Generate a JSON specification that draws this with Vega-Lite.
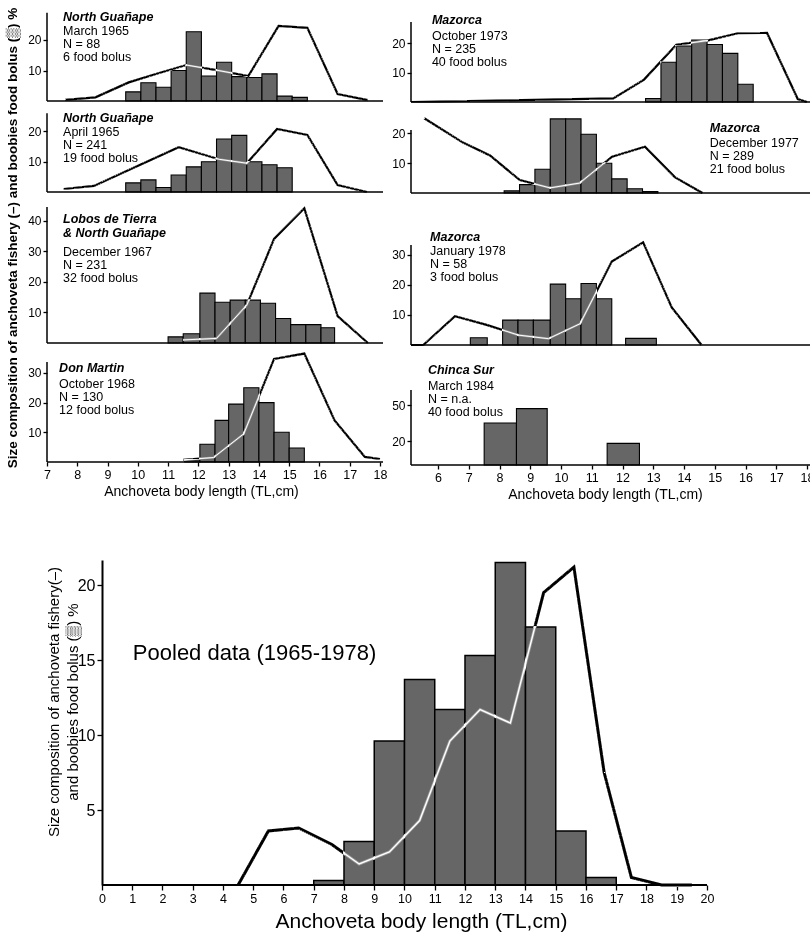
{
"$schema": "https://vega.github.io/schema/vega-lite/v6.json",
"padding": {"left": 6, "top": 7, "right": 0, "bottom": 0},
"autosize": {"type": "pad"},
"background": "white",
"datasets": {
"bars": [
{"panel":"P1","len":9.6,"len2":10.1,"pct":3},{"panel":"P1","len":10.1,"len2":10.6,"pct":6},{"panel":"P1","len":10.6,"len2":11.1,"pct":4.5},{"panel":"P1","len":11.1,"len2":11.6,"pct":10},{"panel":"P1","len":11.6,"len2":12.1,"pct":22.7},{"panel":"P1","len":12.1,"len2":12.6,"pct":8.2},{"panel":"P1","len":12.6,"len2":13.1,"pct":12.7},{"panel":"P1","len":13.1,"len2":13.6,"pct":8},{"panel":"P1","len":13.6,"len2":14.1,"pct":7.7},{"panel":"P1","len":14.1,"len2":14.6,"pct":8.9},{"panel":"P1","len":14.6,"len2":15.1,"pct":1.6},{"panel":"P1","len":15.1,"len2":15.6,"pct":1.2},
{"panel":"P2","len":9.6,"len2":10.1,"pct":3},{"panel":"P2","len":10.1,"len2":10.6,"pct":4},{"panel":"P2","len":10.6,"len2":11.1,"pct":1.5},{"panel":"P2","len":11.1,"len2":11.6,"pct":5.6},{"panel":"P2","len":11.6,"len2":12.1,"pct":8.3},{"panel":"P2","len":12.1,"len2":12.6,"pct":10},{"panel":"P2","len":12.6,"len2":13.1,"pct":17.5},{"panel":"P2","len":13.1,"len2":13.6,"pct":18.7},{"panel":"P2","len":13.6,"len2":14.1,"pct":10},{"panel":"P2","len":14.1,"len2":14.6,"pct":9},{"panel":"P2","len":14.6,"len2":15.1,"pct":8},
{"panel":"P3","len":11.0,"len2":11.5,"pct":2},{"panel":"P3","len":11.5,"len2":12.05,"pct":3},{"panel":"P3","len":12.05,"len2":12.55,"pct":16.3},{"panel":"P3","len":12.55,"len2":13.05,"pct":13.3},{"panel":"P3","len":13.05,"len2":13.55,"pct":14},{"panel":"P3","len":13.55,"len2":14.05,"pct":14},{"panel":"P3","len":14.05,"len2":14.55,"pct":13},{"panel":"P3","len":14.55,"len2":15.05,"pct":8},{"panel":"P3","len":15.05,"len2":15.55,"pct":6},{"panel":"P3","len":15.55,"len2":16.05,"pct":6},{"panel":"P3","len":16.05,"len2":16.5,"pct":5},
{"panel":"P4","len":11.55,"len2":12.05,"pct":0.7},{"panel":"P4","len":12.05,"len2":12.55,"pct":6},{"panel":"P4","len":12.55,"len2":13.0,"pct":14},{"panel":"P4","len":13.0,"len2":13.5,"pct":19.5},{"panel":"P4","len":13.5,"len2":14.0,"pct":25},{"panel":"P4","len":14.0,"len2":14.5,"pct":20},{"panel":"P4","len":14.5,"len2":15.0,"pct":10},{"panel":"P4","len":15.0,"len2":15.5,"pct":4.7},
{"panel":"P5","len":12.75,"len2":13.25,"pct":1.2},{"panel":"P5","len":13.25,"len2":13.75,"pct":13.5},{"panel":"P5","len":13.75,"len2":14.25,"pct":19},{"panel":"P5","len":14.25,"len2":14.75,"pct":21},{"panel":"P5","len":14.75,"len2":15.25,"pct":19.5},{"panel":"P5","len":15.25,"len2":15.75,"pct":16.5},{"panel":"P5","len":15.75,"len2":16.25,"pct":6},
{"panel":"P6","len":8.15,"len2":8.65,"pct":0.7},{"panel":"P6","len":8.65,"len2":9.15,"pct":2.8},{"panel":"P6","len":9.15,"len2":9.65,"pct":7.9},{"panel":"P6","len":9.65,"len2":10.15,"pct":24.7},{"panel":"P6","len":10.15,"len2":10.65,"pct":24.7},{"panel":"P6","len":10.65,"len2":11.15,"pct":19.6},{"panel":"P6","len":11.15,"len2":11.65,"pct":9.9},{"panel":"P6","len":11.65,"len2":12.15,"pct":4.7},{"panel":"P6","len":12.15,"len2":12.65,"pct":1.4},{"panel":"P6","len":12.65,"len2":13.15,"pct":0.5},
{"panel":"P7","len":7.05,"len2":7.6,"pct":2.4},{"panel":"P7","len":8.1,"len2":8.6,"pct":8.3},{"panel":"P7","len":8.6,"len2":9.1,"pct":8.3},{"panel":"P7","len":9.1,"len2":9.65,"pct":8.3},{"panel":"P7","len":9.65,"len2":10.15,"pct":20.3},{"panel":"P7","len":10.15,"len2":10.65,"pct":15.4},{"panel":"P7","len":10.65,"len2":11.15,"pct":20.5},{"panel":"P7","len":11.15,"len2":11.65,"pct":15.4},{"panel":"P7","len":12.1,"len2":13.1,"pct":2.2},
{"panel":"P8","len":7.5,"len2":8.55,"pct":35},{"panel":"P8","len":8.55,"len2":9.55,"pct":47},{"panel":"P8","len":11.5,"len2":12.55,"pct":18},
{"panel":"P9","len":7,"len2":8,"pct":0.3},{"panel":"P9","len":8,"len2":9,"pct":2.9},{"panel":"P9","len":9,"len2":10,"pct":9.6},{"panel":"P9","len":10,"len2":11,"pct":13.7},{"panel":"P9","len":11,"len2":12,"pct":11.7},{"panel":"P9","len":12,"len2":13,"pct":15.3},{"panel":"P9","len":13,"len2":14,"pct":21.5},{"panel":"P9","len":14,"len2":15,"pct":17.2},{"panel":"P9","len":15,"len2":16,"pct":3.6},{"panel":"P9","len":16,"len2":17,"pct":0.5}
],
"lines": [
{"panel":"P1","len":7.6,"pct":0.4},{"panel":"P1","len":8.6,"pct":1.2},{"panel":"P1","len":9.7,"pct":6.1},{"panel":"P1","len":10.65,"pct":9.0},{"panel":"P1","len":11.6,"pct":11.8},{"panel":"P1","len":12.6,"pct":10.1},{"panel":"P1","len":13.65,"pct":8.2},{"panel":"P1","len":14.65,"pct":24.6},{"panel":"P1","len":15.6,"pct":24.0},{"panel":"P1","len":16.6,"pct":2.3},{"panel":"P1","len":17.6,"pct":0.3},
{"panel":"P2","len":7.55,"pct":1},{"panel":"P2","len":8.55,"pct":2},{"panel":"P2","len":9.7,"pct":7.3},{"panel":"P2","len":11.35,"pct":14.8},{"panel":"P2","len":12.68,"pct":10.8},{"panel":"P2","len":13.6,"pct":9.5},{"panel":"P2","len":14.6,"pct":20.8},{"panel":"P2","len":15.6,"pct":18.8},{"panel":"P2","len":16.6,"pct":2.3},{"panel":"P2","len":17.57,"pct":0},
{"panel":"P3","len":11.5,"pct":1.0},{"panel":"P3","len":12.6,"pct":1.5},{"panel":"P3","len":13.6,"pct":12.4},{"panel":"P3","len":14.5,"pct":34},{"panel":"P3","len":15.5,"pct":44},{"panel":"P3","len":16.6,"pct":8.8},{"panel":"P3","len":17.6,"pct":0},
{"panel":"P4","len":11.5,"pct":0.7},{"panel":"P4","len":12.5,"pct":1.5},{"panel":"P4","len":13.5,"pct":9.5},{"panel":"P4","len":14.5,"pct":34.7},{"panel":"P4","len":15.5,"pct":36.5},{"panel":"P4","len":16.5,"pct":14},{"panel":"P4","len":17.5,"pct":1.7},{"panel":"P4","len":18,"pct":1},
{"panel":"P5","len":5.12,"pct":0},{"panel":"P5","len":11.7,"pct":1.2},{"panel":"P5","len":12.7,"pct":7.6},{"panel":"P5","len":13.75,"pct":19.4},{"panel":"P5","len":14.75,"pct":20.8},{"panel":"P5","len":15.75,"pct":23.3},{"panel":"P5","len":16.7,"pct":23.4},{"panel":"P5","len":17.7,"pct":1},{"panel":"P5","len":18,"pct":0},
{"panel":"P6","len":5.55,"pct":24.9},{"panel":"P6","len":6.81,"pct":16.8},{"panel":"P6","len":7.69,"pct":12.5},{"panel":"P6","len":8.66,"pct":4.3},{"panel":"P6","len":9.64,"pct":1.7},{"panel":"P6","len":10.6,"pct":3.3},{"panel":"P6","len":11.66,"pct":12.1},{"panel":"P6","len":12.73,"pct":15.4},{"panel":"P6","len":13.7,"pct":5.3},{"panel":"P6","len":14.6,"pct":0},
{"panel":"P7","len":5.12,"pct":0},{"panel":"P7","len":5.52,"pct":0},{"panel":"P7","len":6.55,"pct":9.6},{"panel":"P7","len":7.58,"pct":6.7},{"panel":"P7","len":8.61,"pct":3.3},{"panel":"P7","len":9.59,"pct":2.1},{"panel":"P7","len":10.62,"pct":7.1},{"panel":"P7","len":11.65,"pct":27.8},{"panel":"P7","len":12.67,"pct":34.2},{"panel":"P7","len":13.6,"pct":12.5},{"panel":"P7","len":14.57,"pct":0},
{"panel":"P9","len":4.5,"pct":0},{"panel":"P9","len":5.5,"pct":3.6},{"panel":"P9","len":6.5,"pct":3.8},{"panel":"P9","len":7.6,"pct":2.7},{"panel":"P9","len":8.5,"pct":1.4},{"panel":"P9","len":9.5,"pct":2.2},{"panel":"P9","len":10.5,"pct":4.3},{"panel":"P9","len":11.5,"pct":9.6},{"panel":"P9","len":12.5,"pct":11.7},{"panel":"P9","len":13.5,"pct":10.8},{"panel":"P9","len":14.6,"pct":19.5},{"panel":"P9","len":15.6,"pct":21.2},{"panel":"P9","len":16.6,"pct":7.5},{"panel":"P9","len":17.5,"pct":0.5},{"panel":"P9","len":18.5,"pct":0},{"panel":"P9","len":19.5,"pct":0}
]
},
"vconcat": [
{
"hconcat": [
{
"spacing": 0, "bounds": "flush",
"vconcat": [
{
"width": 333, "height": 101,
"resolve": {"axis": {"x": "independent", "y": "independent"}},
"layer": [
{"data": {"name": "bars"}, "transform": [{"filter": "datum.panel === 'P1'"}], "mark": {"type": "rect", "fill": "#666666", "stroke": "black", "strokeWidth": 1.1}, "encoding": {
"x": {"field": "len", "type": "quantitative", "scale": {"domain": [7, 18], "nice": false, "zero": false}, "axis": null}, "x2": {"field": "len2"},
"y": {"field": "pct", "type": "quantitative", "scale": {"domain": [-3.934, 29.18], "nice": false, "zero": false}, "axis": {"orient": "left", "values": [10, 20], "domain": false, "title": null, "tickSize": 4, "labelPadding": 2}}, "y2": {"datum": 0}}},
{"data": {"name": "lines"}, "transform": [{"filter": "datum.panel === 'P1'"}], "mark": {"type": "line", "color": "white", "strokeWidth": 2.2, "blend": "difference"}, "encoding": {"x": {"field": "len", "type": "quantitative", "axis": null}, "y": {"field": "pct", "type": "quantitative", "axis": null}}},
{"data": {"name": "lines"}, "transform": [{"filter": "datum.panel === 'P1'"}], "mark": {"type": "line", "color": "white", "strokeWidth": 1, "blend": "color-dodge"}, "encoding": {"x": {"field": "len", "type": "quantitative", "axis": null}, "y": {"field": "pct", "type": "quantitative", "axis": null}}},
{"data": {"values": [{}]}, "mark": {"type": "rule", "color": "black", "strokeWidth": 1.5}, "encoding": {"x": {"datum": 7, "type": "quantitative", "axis": null}, "y": {"datum": 0, "type": "quantitative", "axis": null}, "y2": {"datum": 28.9}}},
{"data": {"values": [{}]}, "mark": {"type": "rule", "color": "black", "strokeWidth": 1.5}, "encoding": {"x": {"datum": 7, "type": "quantitative", "axis": null}, "x2": {"datum": 18.1}, "y": {"datum": 0, "type": "quantitative", "axis": null}}},
{"data": {"values": [{}]}, "mark": {"type": "text", "align": "left", "baseline": "top", "fontStyle": "italic", "fontWeight": "bold", "fontSize": 12.5}, "encoding": {"x": {"datum": 7.53, "type": "quantitative", "axis": null}, "y": {"datum": 29.5, "type": "quantitative", "axis": null}, "text": {"value": "North Guañape"}}},
{"data": {"values": [{}]}, "mark": {"type": "text", "align": "left", "baseline": "top", "fontSize": 12.5, "lineHeight": 13}, "encoding": {"x": {"datum": 7.53, "type": "quantitative", "axis": null}, "y": {"datum": 24.9, "type": "quantitative", "axis": null}, "text": {"value": ["March 1965", "N = 88", "6 food bolus"]}}}
]
},
{
"width": 333, "height": 94,
"resolve": {"axis": {"x": "independent", "y": "independent"}},
"layer": [
{"data": {"name": "bars"}, "transform": [{"filter": "datum.panel === 'P2'"}], "mark": {"type": "rect", "fill": "#666666", "stroke": "black", "strokeWidth": 1.1}, "encoding": {
"x": {"field": "len", "type": "quantitative", "scale": {"domain": [7, 18], "nice": false, "zero": false}, "axis": null}, "x2": {"field": "len2"},
"y": {"field": "pct", "type": "quantitative", "scale": {"domain": [-4.95, 26.07], "nice": false, "zero": false}, "axis": {"orient": "left", "values": [10, 20], "domain": false, "title": null, "tickSize": 4, "labelPadding": 2}}, "y2": {"datum": 0}}},
{"data": {"name": "lines"}, "transform": [{"filter": "datum.panel === 'P2'"}], "mark": {"type": "line", "color": "white", "strokeWidth": 2.2, "blend": "difference"}, "encoding": {"x": {"field": "len", "type": "quantitative", "axis": null}, "y": {"field": "pct", "type": "quantitative", "axis": null}}},
{"data": {"name": "lines"}, "transform": [{"filter": "datum.panel === 'P2'"}], "mark": {"type": "line", "color": "white", "strokeWidth": 1, "blend": "color-dodge"}, "encoding": {"x": {"field": "len", "type": "quantitative", "axis": null}, "y": {"field": "pct", "type": "quantitative", "axis": null}}},
{"data": {"values": [{}]}, "mark": {"type": "rule", "color": "black", "strokeWidth": 1.5}, "encoding": {"x": {"datum": 7, "type": "quantitative", "axis": null}, "y": {"datum": 0, "type": "quantitative", "axis": null}, "y2": {"datum": 26}}},
{"data": {"values": [{}]}, "mark": {"type": "rule", "color": "black", "strokeWidth": 1.5}, "encoding": {"x": {"datum": 7, "type": "quantitative", "axis": null}, "x2": {"datum": 18.1}, "y": {"datum": 0, "type": "quantitative", "axis": null}}},
{"data": {"values": [{}]}, "mark": {"type": "text", "align": "left", "baseline": "top", "fontStyle": "italic", "fontWeight": "bold", "fontSize": 12.5}, "encoding": {"x": {"datum": 7.53, "type": "quantitative", "axis": null}, "y": {"datum": 26.4, "type": "quantitative", "axis": null}, "text": {"value": "North Guañape"}}},
{"data": {"values": [{}]}, "mark": {"type": "text", "align": "left", "baseline": "top", "fontSize": 12.5, "lineHeight": 13}, "encoding": {"x": {"datum": 7.53, "type": "quantitative", "axis": null}, "y": {"datum": 21.8, "type": "quantitative", "axis": null}, "text": {"value": ["April 1965", "N = 241", "19 food bolus"]}}}
]
},
{
"width": 333, "height": 155,
"resolve": {"axis": {"x": "independent", "y": "independent"}},
"layer": [
{"data": {"name": "bars"}, "transform": [{"filter": "datum.panel === 'P3'"}], "mark": {"type": "rect", "fill": "#666666", "stroke": "black", "strokeWidth": 1.1}, "encoding": {
"x": {"field": "len", "type": "quantitative", "scale": {"domain": [7, 18], "nice": false, "zero": false}, "axis": null}, "x2": {"field": "len2"},
"y": {"field": "pct", "type": "quantitative", "scale": {"domain": [-6.209, 44.44], "nice": false, "zero": false}, "axis": {"orient": "left", "values": [10, 20, 30, 40], "domain": false, "title": null, "tickSize": 4, "labelPadding": 2}}, "y2": {"datum": 0}}},
{"data": {"name": "lines"}, "transform": [{"filter": "datum.panel === 'P3'"}], "mark": {"type": "line", "color": "white", "strokeWidth": 2.2, "blend": "difference"}, "encoding": {"x": {"field": "len", "type": "quantitative", "axis": null}, "y": {"field": "pct", "type": "quantitative", "axis": null}}},
{"data": {"name": "lines"}, "transform": [{"filter": "datum.panel === 'P3'"}], "mark": {"type": "line", "color": "white", "strokeWidth": 1, "blend": "color-dodge"}, "encoding": {"x": {"field": "len", "type": "quantitative", "axis": null}, "y": {"field": "pct", "type": "quantitative", "axis": null}}},
{"data": {"values": [{}]}, "mark": {"type": "rule", "color": "black", "strokeWidth": 1.5}, "encoding": {"x": {"datum": 7, "type": "quantitative", "axis": null}, "y": {"datum": 0, "type": "quantitative", "axis": null}, "y2": {"datum": 44.4}}},
{"data": {"values": [{}]}, "mark": {"type": "rule", "color": "black", "strokeWidth": 1.5}, "encoding": {"x": {"datum": 7, "type": "quantitative", "axis": null}, "x2": {"datum": 18.1}, "y": {"datum": 0, "type": "quantitative", "axis": null}}},
{"data": {"values": [{}]}, "mark": {"type": "text", "align": "left", "baseline": "top", "fontStyle": "italic", "fontWeight": "bold", "fontSize": 12.5, "lineHeight": 14}, "encoding": {"x": {"datum": 7.53, "type": "quantitative", "axis": null}, "y": {"datum": 42.5, "type": "quantitative", "axis": null}, "text": {"value": ["Lobos de Tierra", "& North Guañape"]}}},
{"data": {"values": [{}]}, "mark": {"type": "text", "align": "left", "baseline": "top", "fontSize": 12.5, "lineHeight": 13}, "encoding": {"x": {"datum": 7.53, "type": "quantitative", "axis": null}, "y": {"datum": 31.7, "type": "quantitative", "axis": null}, "text": {"value": ["December 1967", "N = 231", "32 food bolus"]}}},
{"data": {"values": [{}]}, "mark": {"type": "text", "angle": 270, "align": "center", "baseline": "middle", "fontSize": 13.5, "fontWeight": "bold"}, "encoding": {"x": {"datum": 5.877, "type": "quantitative", "axis": null}, "y": {"datum": 34.3, "type": "quantitative", "axis": null}, "text": {"value": "Size composition of anchoveta fishery (–) and boobies food bolus (▒) %"}}}
]
},
{
"width": 333, "height": 100,
"resolve": {"axis": {"x": "independent", "y": "independent"}},
"layer": [
{"data": {"name": "bars"}, "transform": [{"filter": "datum.panel === 'P4'"}], "mark": {"type": "rect", "fill": "#666666", "stroke": "black", "strokeWidth": 1.1}, "encoding": {
"x": {"field": "len", "type": "quantitative", "scale": {"domain": [7, 18], "nice": false, "zero": false}, "axis": {"orient": "bottom", "values": [7, 8, 9, 10, 11, 12, 13, 14, 15, 16, 17, 18], "domain": false, "tickSize": 4, "labelFontSize": 12.5, "labelPadding": 2, "labelOverlap": false, "labelFlush": false, "title": "Anchoveta body length (TL,cm)", "titleFontSize": 14, "titlePadding": 4, "titleX": 154}}, "x2": {"field": "len2"},
"y": {"field": "pct", "type": "quantitative", "scale": {"domain": [0, 33.67], "nice": false, "zero": false}, "axis": {"orient": "left", "values": [10, 20, 30], "domain": false, "title": null, "tickSize": 4, "labelPadding": 2}}, "y2": {"datum": 0}}},
{"data": {"name": "lines"}, "transform": [{"filter": "datum.panel === 'P4'"}], "mark": {"type": "line", "color": "white", "strokeWidth": 2.2, "blend": "difference"}, "encoding": {"x": {"field": "len", "type": "quantitative", "axis": null}, "y": {"field": "pct", "type": "quantitative", "axis": null}}},
{"data": {"name": "lines"}, "transform": [{"filter": "datum.panel === 'P4'"}], "mark": {"type": "line", "color": "white", "strokeWidth": 1, "blend": "color-dodge"}, "encoding": {"x": {"field": "len", "type": "quantitative", "axis": null}, "y": {"field": "pct", "type": "quantitative", "axis": null}}},
{"data": {"values": [{}]}, "mark": {"type": "rule", "color": "black", "strokeWidth": 1.5}, "encoding": {"x": {"datum": 7, "type": "quantitative", "axis": null}, "y": {"datum": 0, "type": "quantitative", "axis": null}, "y2": {"datum": 33.67}}},
{"data": {"values": [{}]}, "mark": {"type": "rule", "color": "black", "strokeWidth": 1.5}, "encoding": {"x": {"datum": 7, "type": "quantitative", "axis": null}, "x2": {"datum": 18.1}, "y": {"datum": 0, "type": "quantitative", "axis": null}}},
{"data": {"values": [{}]}, "mark": {"type": "text", "align": "left", "baseline": "top", "fontStyle": "italic", "fontWeight": "bold", "fontSize": 12.5}, "encoding": {"x": {"datum": 7.4, "type": "quantitative", "axis": null}, "y": {"datum": 33.7, "type": "quantitative", "axis": null}, "text": {"value": "Don Martin"}}},
{"data": {"values": [{}]}, "mark": {"type": "text", "align": "left", "baseline": "top", "fontSize": 12.5, "lineHeight": 13}, "encoding": {"x": {"datum": 7.4, "type": "quantitative", "axis": null}, "y": {"datum": 28.3, "type": "quantitative", "axis": null}, "text": {"value": ["October 1968", "N = 130", "12 food bolus"]}}}
]
}
]
},
{
"spacing": 0, "bounds": "flush",
"vconcat": [
{
"width": 396, "height": 103,
"resolve": {"axis": {"x": "independent", "y": "independent"}},
"layer": [
{"data": {"name": "bars"}, "transform": [{"filter": "datum.panel === 'P5'"}], "mark": {"type": "rect", "fill": "#666666", "stroke": "black", "strokeWidth": 1.1}, "encoding": {
"x": {"field": "len", "type": "quantitative", "scale": {"domain": [5.12, 18], "nice": false, "zero": false}, "axis": null}, "x2": {"field": "len2"},
"y": {"field": "pct", "type": "quantitative", "scale": {"domain": [-4.407, 30.51], "nice": false, "zero": false}, "axis": {"orient": "left", "values": [10, 20], "domain": false, "title": null, "tickSize": 4, "labelPadding": 2}}, "y2": {"datum": 0}}},
{"data": {"name": "lines"}, "transform": [{"filter": "datum.panel === 'P5'"}], "mark": {"type": "line", "color": "white", "strokeWidth": 2.2, "blend": "difference"}, "encoding": {"x": {"field": "len", "type": "quantitative", "axis": null}, "y": {"field": "pct", "type": "quantitative", "axis": null}}},
{"data": {"name": "lines"}, "transform": [{"filter": "datum.panel === 'P5'"}], "mark": {"type": "line", "color": "white", "strokeWidth": 1, "blend": "color-dodge"}, "encoding": {"x": {"field": "len", "type": "quantitative", "axis": null}, "y": {"field": "pct", "type": "quantitative", "axis": null}}},
{"data": {"values": [{}]}, "mark": {"type": "rule", "color": "black", "strokeWidth": 1.5}, "encoding": {"x": {"datum": 5.12, "type": "quantitative", "axis": null}, "y": {"datum": 0, "type": "quantitative", "axis": null}, "y2": {"datum": 27.1}}},
{"data": {"values": [{}]}, "mark": {"type": "rule", "color": "black", "strokeWidth": 1.5}, "encoding": {"x": {"datum": 5.12, "type": "quantitative", "axis": null}, "x2": {"datum": 18.1}, "y": {"datum": 0, "type": "quantitative", "axis": null}}},
{"data": {"values": [{}]}, "mark": {"type": "text", "align": "left", "baseline": "top", "fontStyle": "italic", "fontWeight": "bold", "fontSize": 12.5}, "encoding": {"x": {"datum": 5.8, "type": "quantitative", "axis": null}, "y": {"datum": 29.8, "type": "quantitative", "axis": null}, "text": {"value": "Mazorca"}}},
{"data": {"values": [{}]}, "mark": {"type": "text", "align": "left", "baseline": "top", "fontSize": 12.5, "lineHeight": 13}, "encoding": {"x": {"datum": 5.8, "type": "quantitative", "axis": null}, "y": {"datum": 24.4, "type": "quantitative", "axis": null}, "text": {"value": ["October 1973", "N = 235", "40 food bolus"]}}}
]
},
{
"width": 396, "height": 115,
"resolve": {"axis": {"x": "independent", "y": "independent"}},
"layer": [
{"data": {"name": "bars"}, "transform": [{"filter": "datum.panel === 'P6'"}], "mark": {"type": "rect", "fill": "#666666", "stroke": "black", "strokeWidth": 1.1}, "encoding": {
"x": {"field": "len", "type": "quantitative", "scale": {"domain": [5.12, 18], "nice": false, "zero": false}, "axis": null}, "x2": {"field": "len2"},
"y": {"field": "pct", "type": "quantitative", "scale": {"domain": [-12.33, 26], "nice": false, "zero": false}, "axis": {"orient": "left", "values": [10, 20], "domain": false, "title": null, "tickSize": 4, "labelPadding": 2}}, "y2": {"datum": 0}}},
{"data": {"name": "lines"}, "transform": [{"filter": "datum.panel === 'P6'"}], "mark": {"type": "line", "color": "white", "strokeWidth": 2.2, "blend": "difference"}, "encoding": {"x": {"field": "len", "type": "quantitative", "axis": null}, "y": {"field": "pct", "type": "quantitative", "axis": null}}},
{"data": {"name": "lines"}, "transform": [{"filter": "datum.panel === 'P6'"}], "mark": {"type": "line", "color": "white", "strokeWidth": 1, "blend": "color-dodge"}, "encoding": {"x": {"field": "len", "type": "quantitative", "axis": null}, "y": {"field": "pct", "type": "quantitative", "axis": null}}},
{"data": {"values": [{}]}, "mark": {"type": "rule", "color": "black", "strokeWidth": 1.5}, "encoding": {"x": {"datum": 5.12, "type": "quantitative", "axis": null}, "y": {"datum": 0, "type": "quantitative", "axis": null}, "y2": {"datum": 21}}},
{"data": {"values": [{}]}, "mark": {"type": "rule", "color": "black", "strokeWidth": 1.5}, "encoding": {"x": {"datum": 5.12, "type": "quantitative", "axis": null}, "x2": {"datum": 18.1}, "y": {"datum": 0, "type": "quantitative", "axis": null}}},
{"data": {"values": [{}]}, "mark": {"type": "text", "align": "left", "baseline": "top", "fontStyle": "italic", "fontWeight": "bold", "fontSize": 12.5}, "encoding": {"x": {"datum": 14.84, "type": "quantitative", "axis": null}, "y": {"datum": 23.7, "type": "quantitative", "axis": null}, "text": {"value": "Mazorca"}}},
{"data": {"values": [{}]}, "mark": {"type": "text", "align": "left", "baseline": "top", "fontSize": 12.5, "lineHeight": 13}, "encoding": {"x": {"datum": 14.84, "type": "quantitative", "axis": null}, "y": {"datum": 18.7, "type": "quantitative", "axis": null}, "text": {"value": ["December 1977", "N = 289", "21 food bolus"]}}}
]
},
{
"width": 396, "height": 130,
"resolve": {"axis": {"x": "independent", "y": "independent"}},
"layer": [
{"data": {"name": "bars"}, "transform": [{"filter": "datum.panel === 'P7'"}], "mark": {"type": "rect", "fill": "#666666", "stroke": "black", "strokeWidth": 1.1}, "encoding": {
"x": {"field": "len", "type": "quantitative", "scale": {"domain": [5.12, 18], "nice": false, "zero": false}, "axis": null}, "x2": {"field": "len2"},
"y": {"field": "pct", "type": "quantitative", "scale": {"domain": [-5, 38.33], "nice": false, "zero": false}, "axis": {"orient": "left", "values": [10, 20, 30], "domain": false, "title": null, "tickSize": 4, "labelPadding": 2}}, "y2": {"datum": 0}}},
{"data": {"name": "lines"}, "transform": [{"filter": "datum.panel === 'P7'"}], "mark": {"type": "line", "color": "white", "strokeWidth": 2.2, "blend": "difference"}, "encoding": {"x": {"field": "len", "type": "quantitative", "axis": null}, "y": {"field": "pct", "type": "quantitative", "axis": null}}},
{"data": {"name": "lines"}, "transform": [{"filter": "datum.panel === 'P7'"}], "mark": {"type": "line", "color": "white", "strokeWidth": 1, "blend": "color-dodge"}, "encoding": {"x": {"field": "len", "type": "quantitative", "axis": null}, "y": {"field": "pct", "type": "quantitative", "axis": null}}},
{"data": {"values": [{}]}, "mark": {"type": "rule", "color": "black", "strokeWidth": 1.5}, "encoding": {"x": {"datum": 5.12, "type": "quantitative", "axis": null}, "y": {"datum": 0, "type": "quantitative", "axis": null}, "y2": {"datum": 33.3}}},
{"data": {"values": [{}]}, "mark": {"type": "rule", "color": "black", "strokeWidth": 1.5}, "encoding": {"x": {"datum": 5.12, "type": "quantitative", "axis": null}, "x2": {"datum": 18.1}, "y": {"datum": 0, "type": "quantitative", "axis": null}}},
{"data": {"values": [{}]}, "mark": {"type": "text", "align": "left", "baseline": "top", "fontStyle": "italic", "fontWeight": "bold", "fontSize": 12.5}, "encoding": {"x": {"datum": 5.74, "type": "quantitative", "axis": null}, "y": {"datum": 38, "type": "quantitative", "axis": null}, "text": {"value": "Mazorca"}}},
{"data": {"values": [{}]}, "mark": {"type": "text", "align": "left", "baseline": "top", "fontSize": 12.5, "lineHeight": 13}, "encoding": {"x": {"datum": 5.74, "type": "quantitative", "axis": null}, "y": {"datum": 33.3, "type": "quantitative", "axis": null}, "text": {"value": ["January 1978", "N = 58", "3 food bolus"]}}}
]
},
{
"width": 396, "height": 105,
"resolve": {"axis": {"x": "independent", "y": "independent"}},
"layer": [
{"data": {"name": "bars"}, "transform": [{"filter": "datum.panel === 'P8'"}], "mark": {"type": "rect", "fill": "#666666", "stroke": "black", "strokeWidth": 1.1}, "encoding": {
"x": {"field": "len", "type": "quantitative", "scale": {"domain": [5.12, 18], "nice": false, "zero": false}, "axis": {"orient": "bottom", "values": [6, 7, 8, 9, 10, 11, 12, 13, 14, 15, 16, 17, 18], "domain": false, "tickSize": 4, "labelFontSize": 12.5, "labelPadding": 2, "labelOverlap": false, "labelFlush": false, "title": "Anchoveta body length (TL,cm)", "titleFontSize": 14, "titlePadding": 4, "titleX": 194}}, "x2": {"field": "len2"},
"y": {"field": "pct", "type": "quantitative", "scale": {"domain": [0, 87.5], "nice": false, "zero": false}, "axis": {"orient": "left", "values": [20, 50], "domain": false, "title": null, "tickSize": 4, "labelPadding": 2}}, "y2": {"datum": 0}}},
{"data": {"values": [{}]}, "mark": {"type": "rule", "color": "black", "strokeWidth": 1.5}, "encoding": {"x": {"datum": 5.12, "type": "quantitative", "axis": null}, "y": {"datum": 0, "type": "quantitative", "axis": null}, "y2": {"datum": 62.5}}},
{"data": {"values": [{}]}, "mark": {"type": "rule", "color": "black", "strokeWidth": 1.5}, "encoding": {"x": {"datum": 5.12, "type": "quantitative", "axis": null}, "x2": {"datum": 18.1}, "y": {"datum": 0, "type": "quantitative", "axis": null}}},
{"data": {"values": [{}]}, "mark": {"type": "text", "align": "left", "baseline": "top", "fontStyle": "italic", "fontWeight": "bold", "fontSize": 12.5}, "encoding": {"x": {"datum": 5.67, "type": "quantitative", "axis": null}, "y": {"datum": 84.2, "type": "quantitative", "axis": null}, "text": {"value": "Chinca Sur"}}},
{"data": {"values": [{}]}, "mark": {"type": "text", "align": "left", "baseline": "top", "fontSize": 12.5, "lineHeight": 13}, "encoding": {"x": {"datum": 5.67, "type": "quantitative", "axis": null}, "y": {"datum": 70.8, "type": "quantitative", "axis": null}, "text": {"value": ["March 1984", "N = n.a.", "40 food bolus"]}}}
]
}
]
}
],
"spacing": 4
},
{
"width": 660, "height": 325,
"resolve": {"axis": {"x": "independent", "y": "independent"}},
"layer": [
{"data": {"name": "bars"}, "transform": [{"filter": "datum.panel === 'P9'"}], "mark": {"type": "rect", "fill": "#666666", "stroke": "black", "strokeWidth": 1.5}, "encoding": {
"x": {"field": "len", "type": "quantitative", "scale": {"domain": [-1.818, 20], "nice": false, "zero": false}, "axis": {"orient": "bottom", "values": [0, 1, 2, 3, 4, 5, 6, 7, 8, 9, 10, 11, 12, 13, 14, 15, 16, 17, 18, 19, 20], "domain": false, "tickSize": 5, "labelFontSize": 12.5, "labelPadding": 2, "labelOverlap": false, "labelFlush": false, "title": "Anchoveta body length (TL,cm)", "titleFontSize": 21, "titlePadding": 6, "titleX": 374}}, "x2": {"field": "len2"},
"y": {"field": "pct", "type": "quantitative", "scale": {"domain": [0, 21.67], "nice": false, "zero": false}, "axis": {"orient": "left", "values": [5, 10, 15, 20], "offset": -55, "domain": true, "domainColor": "black", "domainWidth": 2, "tickSize": 5, "labelFontSize": 16, "title": null}}, "y2": {"datum": 0}}},
{"data": {"name": "lines"}, "transform": [{"filter": "datum.panel === 'P9'"}], "mark": {"type": "line", "color": "white", "strokeWidth": 3, "blend": "difference"}, "encoding": {"x": {"field": "len", "type": "quantitative", "axis": null}, "y": {"field": "pct", "type": "quantitative", "axis": null}}},
{"data": {"name": "lines"}, "transform": [{"filter": "datum.panel === 'P9'"}], "mark": {"type": "line", "color": "white", "strokeWidth": 1.4, "blend": "color-dodge"}, "encoding": {"x": {"field": "len", "type": "quantitative", "axis": null}, "y": {"field": "pct", "type": "quantitative", "axis": null}}},
{"data": {"values": [{}]}, "mark": {"type": "rule", "color": "black", "strokeWidth": 2}, "encoding": {"x": {"datum": 0, "type": "quantitative", "axis": null}, "x2": {"datum": 20}, "y": {"datum": 0, "type": "quantitative", "axis": null}}},
{"data": {"values": [{}]}, "mark": {"type": "text", "align": "left", "baseline": "middle", "fontSize": 22}, "encoding": {"x": {"datum": 1.02, "type": "quantitative", "axis": null}, "y": {"datum": 15.47, "type": "quantitative", "axis": null}, "text": {"value": "Pooled data (1965-1978)"}}},
{"data": {"values": [{}]}, "mark": {"type": "text", "angle": 270, "align": "center", "baseline": "middle", "fontSize": 15, "lineHeight": 19}, "encoding": {"x": {"datum": -1.587, "type": "quantitative", "axis": null}, "y": {"datum": 12.2, "type": "quantitative", "axis": null}, "text": {"value": ["Size composition of anchoveta fishery(–)", "and boobies food bolus (▒) %"]}}}
]
}
],
"spacing": 58,
"config": {
"view": {"stroke": null},
"font": "Liberation Sans",
"axis": {"grid": false, "labelColor": "black", "tickColor": "black", "tickWidth": 1.3, "labelFont": "Liberation Sans", "titleFont": "Liberation Sans", "titleColor": "black", "titleFontWeight": "normal", "labelFontSize": 12},
"text": {"color": "black", "font": "Liberation Sans"}
}
}
